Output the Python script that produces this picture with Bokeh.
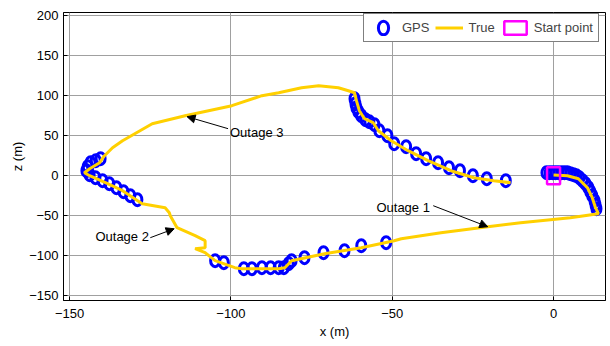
from bokeh.plotting import figure
from bokeh.models import (Range1d, FixedTicker, Legend, LegendItem, Arrow,
                          NormalHead, Label)
from bokeh.embed import file_html
from bokeh.resources import INLINE

# ---------------- data ----------------
true_x = [0.0, 4.3, 7.7, 10.5, 12.0, 13.0, 13.9, 5.2, -10.2, -20.4, -34.9, -47.2,
          -49.4, -59.6, -71.0, -81.2, -82.1, -83.3, -85.2, -96.6, -98.8, -104.9,
          -108.0, -111.1, -108.0, -108.0, -111.1, -116.7, -118.8, -119.1, -120.4,
          -127.5, -133.6, -138.9, -143.8, -145.4, -143.8, -140.7, -139.2, -136.7,
          -133.6, -124.4, -114.2, -99.7, -90.4, -85.2, -78.1, -72.8, -66.7, -63.6,
          -61.7, -61.1, -60.2, -58.6, -55.9, -54.3, -50.3, -45.1, -38.9, -31.8,
          -24.7, -18.5, -13.3]
true_y = [1.0, 0.0, -3.75, -15.0, -27.5, -40.0, -47.5, -52.5, -58.75, -63.75,
          -71.25, -78.75, -81.25, -90.0, -97.5, -106.25, -110.0, -115.0, -116.25,
          -116.25, -115.0, -106.25, -96.25, -91.25, -90.0, -81.25, -75.0, -65.0,
          -50.0, -46.25, -40.0, -35.0, -18.75, -8.75, 0.0, 3.75, 8.75, 16.25,
          25.0, 35.0, 43.75, 65.0, 75.0, 87.5, 100.0, 103.75, 110.0, 112.5, 110.0,
          106.25, 103.75, 93.75, 81.25, 71.25, 66.25, 56.25, 43.75, 31.25, 18.75,
          6.25, -2.5, -6.25, -8.75]

gps_x = [-2.2, -1.2, -0.3, 0.6, 1.5, 2.5, 3.4, 4.3, 5.2, 6.2, 7.1, 8.0, 9.0, 9.9,
         10.8, 11.4, 12.0, 12.7, 13.0, 13.3,
         -104.9, -102.2, -96.0, -93.5, -90.4, -87.7, -85.2, -83.6, -82.1, -81.2,
         -77.2, -71.3, -64.8, -59.6, -51.9,
         -129.0, -131.2, -133.3, -135.5, -137.7, -139.8, -142.0, -143.8, -144.8,
         -144.4, -143.5, -141.9, -140.4,
         -61.7, -61.4, -61.1, -60.5, -59.6, -58.3, -57.1, -55.5, -54.0, -51.5,
         -49.4, -45.7, -42.6, -39.5, -35.8, -32.4, -29.0, -25.0, -20.7, -14.8]
gps_y = [3.75, 3.75, 3.75, 3.75, 3.75, 3.75, 3.75, 3.75, 2.5, 1.25, 0.0, -2.5,
         -6.25, -10.0, -15.0, -20.0, -25.0, -31.25, -36.25, -41.25,
         -106.25, -108.75, -116.25, -116.25, -115.0, -115.0, -115.0, -115.0,
         -110.0, -106.25, -102.5, -96.25, -93.75, -87.5, -83.75,
         -30.0, -25.0, -20.0, -15.0, -10.0, -6.25, -2.5, 1.25, 6.25, 11.25,
         16.25, 18.75, 21.25,
         96.25, 90.0, 85.0, 80.0, 75.0, 70.0, 67.5, 63.75, 56.25, 50.0, 40.0,
         36.25, 27.5, 21.25, 16.25, 10.0, 6.25, 0.0, -3.75, -6.25]

start_x = [0.0]
start_y = [0.0]

x_ticks = [-150, -100, -50, 0]
y_ticks = [-150, -100, -50, 0, 50, 100, 150, 200]

outage_text = ["Outage 1", "Outage 2", "Outage 3"]
outage_text_x = [-54.9, -142.0, -100.3]
outage_text_y = [-40.0, -76.0, 53.8]
arrow_x0 = [-37.3, -125.0, -100.9]
arrow_y0 = [-37.5, -77.5, 58.8]
arrow_x1 = [-20.4, -117.6, -113.6]
arrow_y1 = [-63.8, -66.3, 73.8]

FONT = "Liberation Sans"
FS = "13px"

# ---------------- figure ----------------
p = figure(width=610, height=346, output_backend="svg", toolbar_location=None,
           x_range=Range1d(-151.9, 16.1), y_range=Range1d(-156, 204),
           min_border_left=63, min_border_right=5, min_border_top=12,
           min_border_bottom=46)
p.background_fill_color = "white"
p.border_fill_color = "white"
p.outline_line_color = "black"
p.outline_line_width = 1

for ax in (p.xaxis[0], p.yaxis[0]):
    ax.major_label_text_font = FONT
    ax.major_label_text_font_size = FS
    ax.major_label_text_color = "black"
    ax.axis_label_text_font = FONT
    ax.axis_label_text_font_size = FS
    ax.axis_label_text_font_style = "normal"
    ax.axis_label_text_color = "black"
    ax.major_tick_in = 4
    ax.major_tick_out = 0
    ax.minor_tick_in = 0
    ax.minor_tick_out = 0
    ax.axis_line_color = "black"
    ax.major_tick_line_color = "black"

p.xaxis.ticker = FixedTicker(ticks=x_ticks)
p.yaxis.ticker = FixedTicker(ticks=y_ticks)
p.xaxis.axis_label = "x (m)"
p.yaxis.axis_label = "z (m)"
p.xaxis.major_label_standoff = 8
p.yaxis.major_label_standoff = 5
p.xaxis.axis_label_standoff = 3
p.yaxis.axis_label_standoff = 1

p.grid.grid_line_color = "#a0a0a0"
p.grid.grid_line_width = 1
p.xgrid.ticker = FixedTicker(ticks=x_ticks)
p.ygrid.ticker = FixedTicker(ticks=y_ticks)

gps = p.ellipse(gps_x, gps_y, width=9, height=12, width_units="screen",
                height_units="screen", fill_color=None, line_color="#0000ff",
                line_width=3)
true_line = p.line(true_x, true_y, line_color="#ffd000", line_width=3)
start = p.rect(start_x, start_y, width=13, height=17, width_units="screen",
               height_units="screen", fill_color=None, line_color="#ff00ff",
               line_width=2.5)

for i in range(len(outage_text)):
    p.add_layout(Arrow(end=NormalHead(size=8, fill_color="black",
                                      line_color="black", line_width=1),
                       x_start=arrow_x0[i], y_start=arrow_y0[i],
                       x_end=arrow_x1[i], y_end=arrow_y1[i],
                       line_color="black", line_width=1))
    p.add_layout(Label(x=outage_text_x[i], y=outage_text_y[i],
                       text=outage_text[i], text_font=FONT,
                       text_font_size=FS, text_baseline="middle",
                       text_color="black"))

legend = Legend(items=[LegendItem(label="GPS", renderers=[gps]),
                       LegendItem(label="True", renderers=[true_line]),
                       LegendItem(label="Start point", renderers=[start])],
                orientation="horizontal", location=(300, 258))
legend.label_text_font = FONT
legend.label_text_font_size = FS
legend.label_height = 17
legend.glyph_height = 17
legend.glyph_width = 28
legend.label_standoff = 5
legend.spacing = 6
legend.padding = 5
legend.margin = 0
legend.border_line_color = "black"
legend.border_line_width = 1
legend.background_fill_alpha = 1
p.add_layout(legend)

open("out.html", "w").write(file_html(p, INLINE))
